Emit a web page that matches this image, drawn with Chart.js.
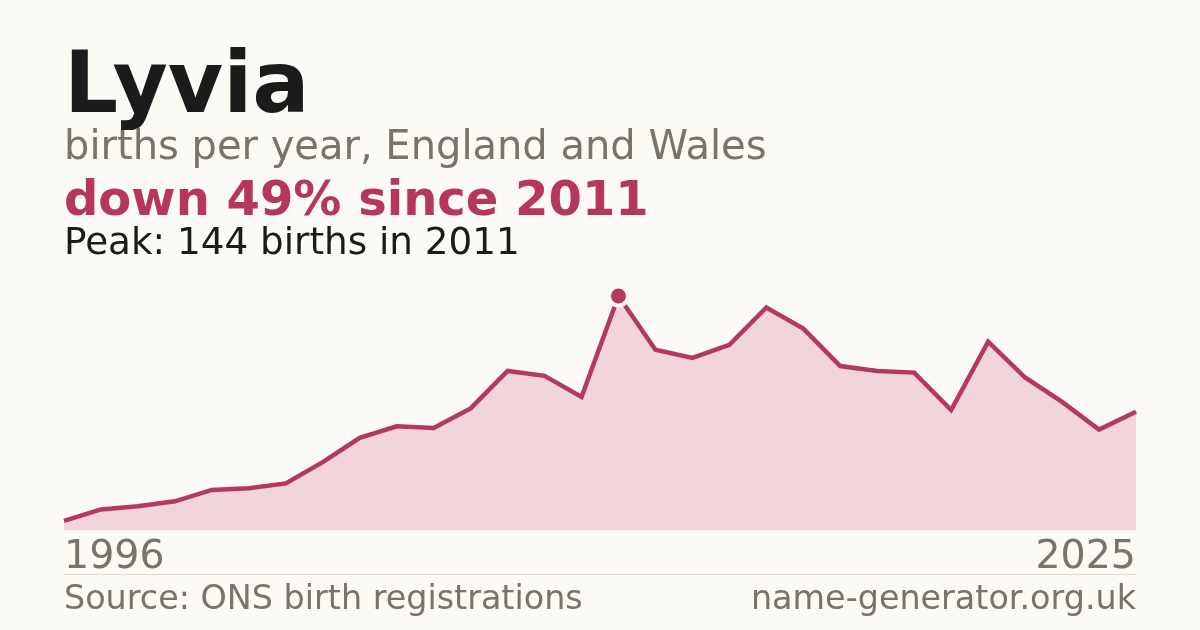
<!DOCTYPE html>
<html>
<head>
<meta charset="utf-8">
<script src="https://cdn.jsdelivr.net/npm/chart.js@4"></script>
<style>
  html, body { margin: 0; padding: 0; }
  body { width: 1200px; height: 630px; background: #fbfaf5; position: relative; overflow: hidden;
         font-family: "DejaVu Sans", sans-serif; }
  .txt { position: absolute; left: 64px; line-height: 1; white-space: nowrap; }
  #title { top: 40px; font-size: 85px; font-weight: bold; color: #1b1b1b; }
  #sub { top: 125px; font-size: 40px; color: #78736b; }
  #change { top: 174px; font-size: 48px; font-weight: bold; color: #b5385a; }
  #peak { top: 223px; font-size: 37.3px; color: #1b1b1b; }
  #rule { position: absolute; left: 64px; width: 1072px; top: 574px; height: 1px; background: #e0dbd2; }
  .foot { position: absolute; top: 581px; font-size: 33.4px; line-height: 1; color: #78736b; white-space: nowrap; }
  #source { left: 64px; }
  #site { right: 64px; }
  #chart { position: absolute; left: 0; top: 0; }
</style>
</head>
<body>
<canvas id="chart" width="1200" height="630"></canvas>
<div class="txt" id="title">Lyvia</div>
<div class="txt" id="sub">births per year, England and Wales</div>
<div class="txt" id="change">down 49% since 2011</div>
<div class="txt" id="peak">Peak: 144 births in 2011</div>
<div id="rule"></div>
<div class="foot" id="source">Source: ONS birth registrations</div>
<div class="foot" id="site">name-generator.org.uk</div>
<script>
// Years on the x axis
const years = [1996, 1997, 1998, 1999, 2000, 2001, 2002, 2003, 2004, 2005,
               2006, 2007, 2008, 2009, 2010, 2011, 2012, 2013, 2014, 2015,
               2016, 2017, 2018, 2019, 2020, 2021, 2022, 2023, 2024, 2025];

// Births per year
const births = [6, 13, 15, 18, 25, 26, 29, 42, 57, 64,
                63, 75, 98, 95, 82, 144, 111, 106, 114, 137,
                124, 101, 98, 97, 74, 116, 94, 79, 62, 73];

const peakIndex = births.indexOf(Math.max(...births));

const ctx = document.getElementById('chart').getContext('2d');
new Chart(ctx, {
    type: 'line',
    data: {
        labels: years,
        datasets: [{
            data: births,
            borderColor: '#b5395a',
            borderWidth: 4.5,
            backgroundColor: '#f2d5da',
            fill: 'origin',
            tension: 0,
            clip: false,
            pointRadius: births.map((v, i) => i === peakIndex ? 9.5 : 0),
            pointBackgroundColor: '#b5395a',
            pointBorderColor: '#fbfaf5',
            pointBorderWidth: 4,
            pointHoverRadius: 0
        }]
    },
    options: {
        responsive: false,
        animation: false,
        devicePixelRatio: 1,
        layout: { padding: { left: 64, right: 64, top: 270, bottom: 54 } },
        plugins: { legend: { display: false }, tooltip: { enabled: false } },
        scales: {
            x: {
                grid: { display: false },
                border: { display: false },
                ticks: {
                    autoSkip: false,
                    maxRotation: 0,
                    align: 'inner',
                    padding: -5,
                    color: '#78736b',
                    font: { family: 'DejaVu Sans', size: 39.5 },
                    callback: (val, i) => (i === 0 || i === years.length - 1) ? years[i] : ''
                }
            },
            y: {
                display: false,
                min: 0,
                max: 160
            }
        }
    }
});
</script>
</body>
</html>
